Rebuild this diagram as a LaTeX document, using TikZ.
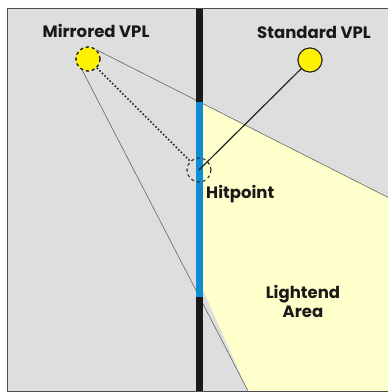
\documentclass[tikz,border=0pt]{standalone}
\usepackage{fontspec}
\setmainfont{Poppins}
\usepackage[svgnames]{xcolor}
\usetikzlibrary{calc}
\definecolor{bgray}{RGB}{222,222,222}
\definecolor{litarea}{RGB}{255,255,204}
\definecolor{wallblue}{RGB}{16,140,212}
\tikzset{
  vpl/.style={circle,draw=black!85,fill=yellow,line width=1pt,minimum size=24pt,inner sep=0pt},
  hitmark/.style={circle,draw=black!85,dashed,line width=1.1pt,minimum size=24pt,inner sep=0pt},
  ray/.style={draw=black!60,line width=0.6pt},
  lbl/.style={font=\bfseries\fontsize{16.5}{19}\selectfont,text=black!90,inner sep=0pt,align=center}}

\begin{document}
\begin{tikzpicture}[x=1pt,y=-1pt]
\useasboundingbox (0,0) rectangle (388,392);
\fill[bgray] (7,8) rectangle (388,391);
\node[vpl] (std) at (310,60) {};
\node[vpl,dashed] (mir) at (88,59) {};
\coordinate (rayA) at (388,197.4);
\coordinate (rayB) at (248,391);
\begin{scope}
  \clip (199,8) rectangle (388,391);
  \fill[litarea] (mir.48) -- (rayA) -- (388,391) -- (rayB) -- cycle;
\end{scope}
\draw[ray] (mir.48) -- (rayA);
\draw[ray] (mir.-118) -- (rayB);
\fill[black!90] (196,8) rectangle (203,391);
\fill[wallblue] (196,102) rectangle (203,297);
\draw[gray!60!black,line width=0.8pt] (388,8) -- (7,8) -- (7,391) -- (388,391);
\node[hitmark] (hit) at (199,170) {};
\draw[black!85,line width=1.2pt] (std) -- (hit.center);
\draw[black!85,dotted,line width=1.6pt] (mir) -- (hit);
\node[vpl] at (std) {};
\node[vpl,dashed,line width=1.3pt] at (mir) {};
\node[lbl] (mirlbl) at (96,31) {Mirrored VPL};
\node[lbl] (stdlbl) at (314,32) {Standard VPL};
\node[lbl,anchor=west] (hitlbl) at (206,194) {Hitpoint};
\node[lbl] (arealbl) at (303,301) {Lightend\\Area};
\end{tikzpicture}
\end{document}
